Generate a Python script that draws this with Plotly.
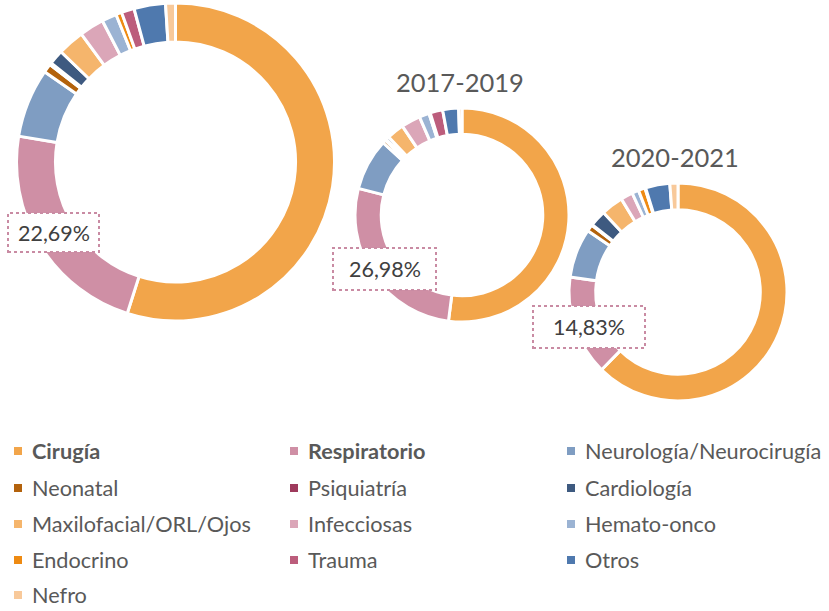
import plotly.graph_objects as go

categories = ["Cirugía", "Respiratorio", "Neurología/Neurocirugía", "Neonatal", "Psiquiatría",
              "Cardiología", "Maxilofacial/ORL/Ojos", "Infecciosas", "Hemato-onco", "Endocrino",
              "Trauma", "Otros", "Nefro"]
bold_categories = ["Cirugía", "Respiratorio"]

colors = ["#F2A54A", "#CF8FA5", "#7F9DC2", "#B3620C", "#9E3A5C", "#3E5A80", "#F5B56C",
          "#DBA6B8", "#9BB3D3", "#EE8A12", "#BC5D7C", "#4F79AE", "#F8C99A"]

values_total = [54.91, 22.69, 7.0, 0.9, 0.2, 1.5, 2.7, 2.5, 1.5, 0.6, 1.3, 3.2, 1.0]
values_2017_2019 = [52.02, 26.98, 7.8, 0.5, 0.2, 0.5, 2.6, 2.9, 1.5, 0.2, 1.9, 2.4, 0.5]
values_2020_2021 = [62.37, 14.83, 7.3, 1.0, 0.1, 2.4, 3.3, 1.8, 1.0, 1.0, 0.1, 3.6, 1.2]

period_titles = ["", "2017-2019", "2020-2021"]

W, H = 829, 611

def px_dom(x0, x1, y0, y1):
    return dict(x=[x0 / W, x1 / W], y=[1 - y1 / H, 1 - y0 / H])

domains = [px_dom(16.5, 334.5, 3, 321), px_dom(355, 569, 108, 322), px_dom(569, 787, 183, 401)]
series = [values_total, values_2017_2019, values_2020_2021]

fig = go.Figure()
for vals, dom in zip(series, domains):
    fig.add_trace(go.Pie(
        labels=categories, values=vals, domain=dom, hole=0.755, sort=False,
        direction="clockwise", rotation=0, textinfo="none", showlegend=False,
        marker=dict(colors=colors, line=dict(color="white", width=3)),
    ))

font_family = "Lato, 'Open Sans', sans-serif"
annotations = []
shapes = []

# period titles
title_pos = [None, (460, 82), (675, 157)]
for t, pos in zip(period_titles, title_pos):
    if t and pos:
        annotations.append(dict(text=t, x=pos[0] / W, y=1 - pos[1] / H, xref="paper", yref="paper",
                                showarrow=False, xanchor="center", yanchor="middle",
                                font=dict(family=font_family, size=25.5, color="#595959")))

# data labels for Respiratorio
boxes = [(8, 99, 213, 252), (333, 436, 248, 290), (533, 645, 306, 348)]
for vals, (x0, x1, y0, y1) in zip(series, boxes):
    txt = f"{vals[1]:.2f}".replace(".", ",") + "%"
    shapes.append(dict(type="rect", xref="paper", yref="paper", x0=x0 / W, x1=x1 / W,
                       y0=1 - y1 / H, y1=1 - y0 / H, fillcolor="white",
                       line=dict(color="#C98BA3", width=2, dash="dot")))
    annotations.append(dict(text=txt, x=(x0 + x1) / 2 / W, y=1 - (y0 + y1) / 2 / H,
                            xref="paper", yref="paper", showarrow=False,
                            xanchor="center", yanchor="middle",
                            font=dict(family=font_family, size=21.5, color="#404040")))

# legend (3 columns)
col_x = [14, 290, 567]
row_y = [451, 488, 524, 560, 595]
for i, (cat, col) in enumerate(zip(categories, colors)):
    c, r = i % 3, i // 3
    mx, my = col_x[c], row_y[r]
    shapes.append(dict(type="rect", xref="paper", yref="paper", x0=mx / W, x1=(mx + 8) / W,
                       y0=1 - (my + 4) / H, y1=1 - (my - 4) / H, fillcolor=col,
                       line=dict(width=0)))
    label = f"<b>{cat}</b>" if cat in bold_categories else cat
    annotations.append(dict(text=label, x=(mx + 16) / W, y=1 - my / H, xref="paper", yref="paper",
                            showarrow=False, xanchor="left", yanchor="middle",
                            font=dict(family=font_family, size=21.7, color="#595959")))

fig.update_layout(width=W, height=H, margin=dict(l=0, r=0, t=0, b=0),
                  paper_bgcolor="white", plot_bgcolor="white",
                  annotations=annotations, shapes=shapes, showlegend=False)

fig.write_html("out.html", config={"displayModeBar": False},
               post_script="document.body.style.margin='0';document.body.style.overflow='hidden';")
